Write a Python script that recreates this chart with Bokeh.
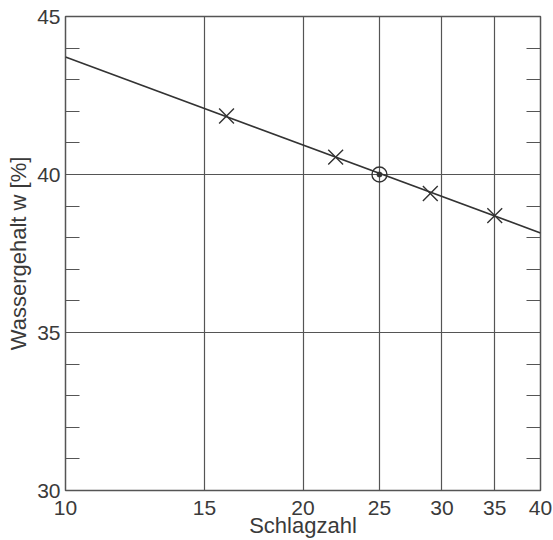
from bokeh.plotting import figure
from bokeh.models import FixedTicker, LinearAxis, Range1d
from bokeh.embed import file_html
from bokeh.resources import INLINE

# Data
blows = [16, 22, 29, 35]
water = [41.85, 40.55, 39.4, 38.7]
ref_blows = [25]
ref_water = [40.0]
fit_x = [10, 40]
fit_y = [43.72, 38.15]
x_ticks = [10, 15, 20, 25, 30, 35, 40]
y_ticks = [30, 35, 40, 45]
y_minor = [31, 32, 33, 34, 36, 37, 38, 39, 41, 42, 43, 44]

FONT = "Liberation Sans"
INK = "#3a3a3a"

p = figure(frame_width=475, frame_height=474, x_axis_type="log",
           x_range=Range1d(10, 40), y_range=Range1d(30, 45),
           output_backend="svg", toolbar_location=None,
           min_border_left=65, min_border_right=12,
           min_border_top=16, min_border_bottom=47)
p.background_fill_color = "white"
p.border_fill_color = "white"
p.outline_line_color = "#555555"
p.outline_line_width = 1.5

# grid
p.xgrid.ticker = FixedTicker(ticks=x_ticks[1:-1])
p.ygrid.ticker = FixedTicker(ticks=y_ticks[1:-1])
p.xgrid.grid_line_color = "#555555"
p.ygrid.grid_line_color = "#555555"
p.xgrid.grid_line_width = 1.2
p.ygrid.grid_line_width = 1.2

# x axis
xa = p.xaxis[0]
xa.ticker = FixedTicker(ticks=x_ticks)
xa.major_label_overrides = {t: str(t) for t in x_ticks}
xa.axis_line_color = None
xa.major_tick_line_color = None
xa.minor_tick_line_color = None
xa.major_tick_in = 0
xa.major_tick_out = 0
xa.minor_tick_in = 0
xa.minor_tick_out = 0
xa.major_label_text_font = FONT
xa.major_label_text_font_size = "21px"
xa.major_label_text_color = INK
xa.major_label_standoff = 10
xa.axis_label = "Schlagzahl"
xa.axis_label_text_font = FONT
xa.axis_label_text_font_size = "22px"
xa.axis_label_text_font_style = "normal"
xa.axis_label_text_color = INK
xa.axis_label_standoff = -5

# y axis
ya = p.yaxis[0]
ya.ticker = FixedTicker(ticks=y_ticks, minor_ticks=y_minor)
ya.axis_line_color = None
ya.major_tick_line_color = None
ya.major_tick_in = 0
ya.major_tick_out = 0
ya.minor_tick_in = 14
ya.minor_tick_out = 0
ya.minor_tick_line_color = "#555555"
ya.minor_tick_line_width = 1.2
ya.major_label_text_font = FONT
ya.major_label_text_font_size = "21px"
ya.major_label_text_color = INK
ya.major_label_standoff = 5
ya.axis_label = "Wassergehalt w [%]"
ya.axis_label_text_font = FONT
ya.axis_label_text_font_size = "22px"
ya.axis_label_text_font_style = "normal"
ya.axis_label_text_color = INK
ya.axis_label_standoff = 3

# right axis with inward minor ticks
ra = LinearAxis(ticker=FixedTicker(ticks=y_ticks, minor_ticks=y_minor))
ra.axis_line_color = None
ra.major_tick_line_color = None
ra.major_tick_in = 0
ra.major_tick_out = 0
ra.major_label_text_font_size = "0px"
ra.major_label_standoff = 0
ra.major_label_text_color = None
ra.minor_tick_in = 14
ra.minor_tick_out = 0
ra.minor_tick_line_color = "#555555"
ra.minor_tick_line_width = 1.2
p.add_layout(ra, "right")

# fit line
p.line(fit_x, fit_y, line_color="#333333", line_width=1.6)

# measured points
p.scatter(blows, water, marker="x", size=21, line_color="#333333", line_width=1.4)

# reference point at 25 blows
p.scatter(ref_blows, ref_water, marker="circle", size=15, fill_color=None,
          line_color="#333333", line_width=1.4)
p.scatter(ref_blows, ref_water, marker="circle", size=5, fill_color="#333333",
          line_color="#333333")

open("out.html", "w").write(file_html(p, INLINE))
